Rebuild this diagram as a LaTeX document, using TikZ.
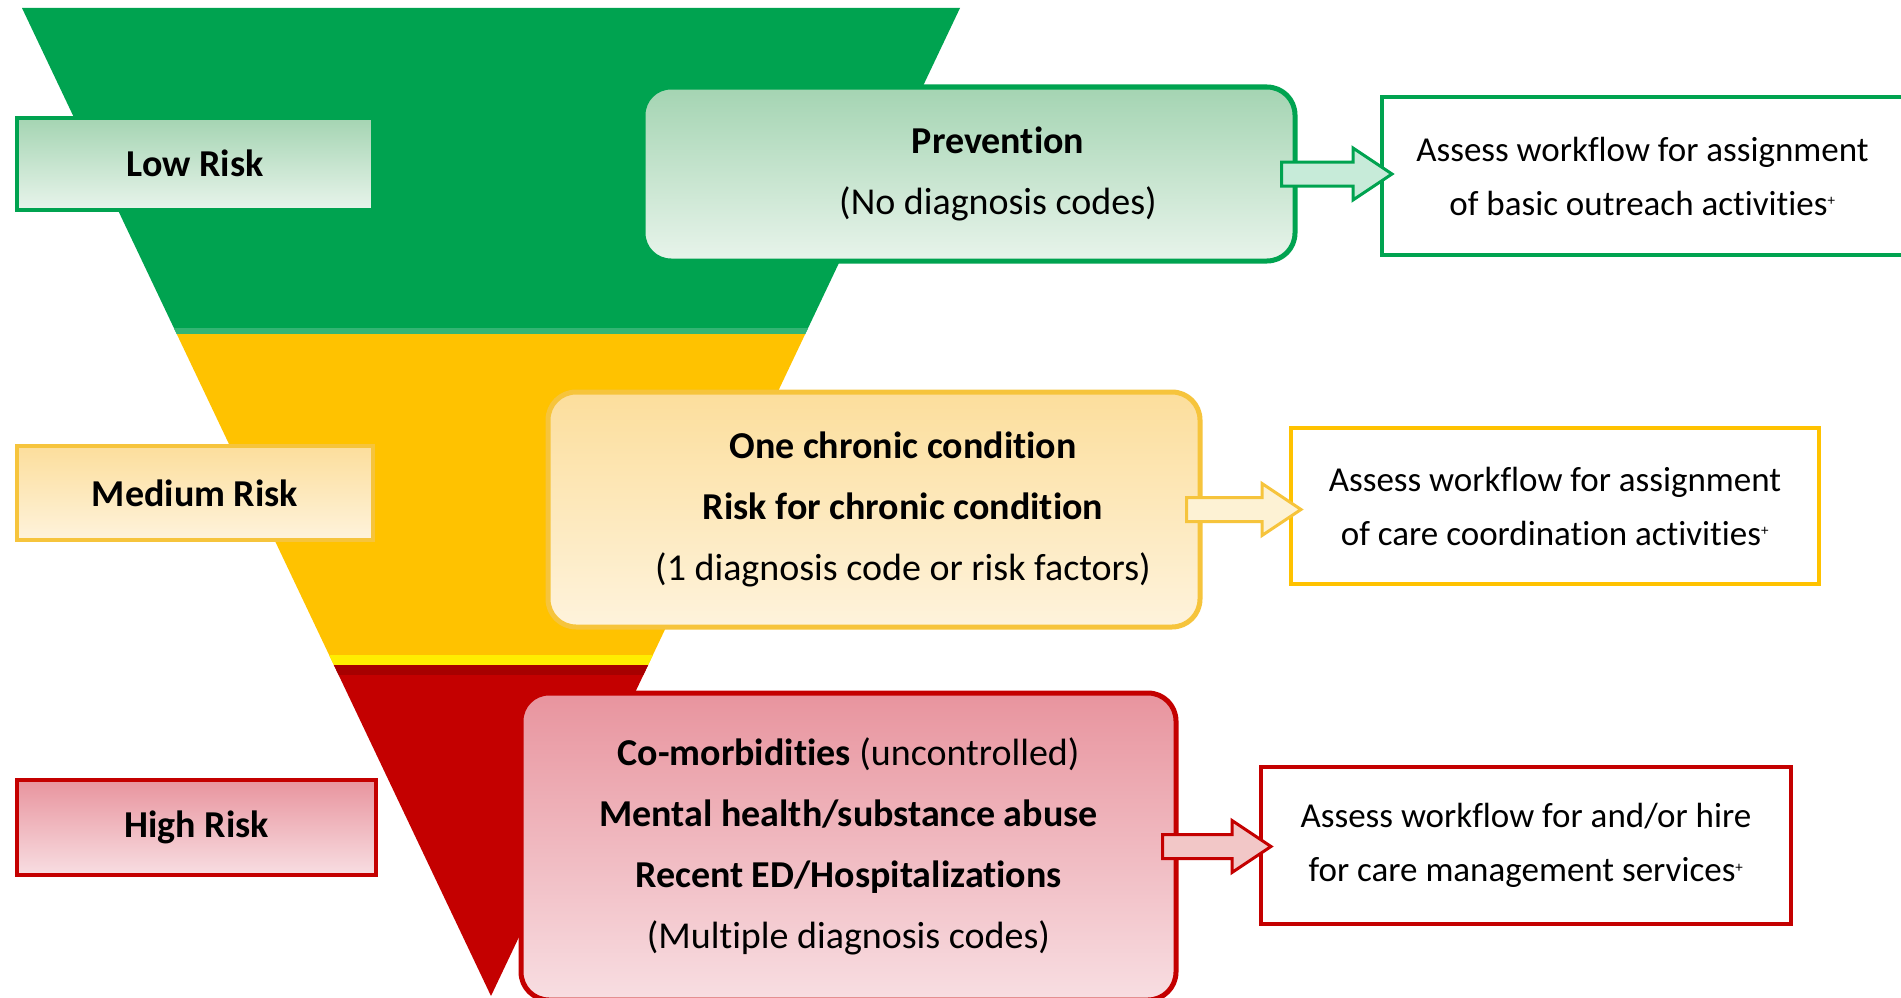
\documentclass[tikz,border=0pt]{standalone}
\usepackage{fontspec}
\setmainfont[Ligatures=NoCommon]{Carlito}
\usetikzlibrary{calc}
\definecolor{riskgreen}{RGB}{0,163,80}
\definecolor{riskyellow}{RGB}{255,194,0}
\definecolor{riskred}{RGB}{196,0,0}
\definecolor{goldline}{RGB}{246,196,60}
\definecolor{greentop}{RGB}{164,212,178}
\definecolor{greenbot}{RGB}{232,244,235}
\definecolor{yellowtop}{RGB}{252,222,156}
\definecolor{yellowbot}{RGB}{254,243,220}
\definecolor{redtop}{RGB}{232,148,158}
\definecolor{redbot}{RGB}{248,222,226}
\newcommand{\band}[3]{\fill[#1] ($(tl)!#2!(apex)$) -- ($(tr)!#2!(apex)$) -- ($(tr)!#3!(apex)$) -- ($(tl)!#3!(apex)$) -- cycle;}
\newcommand{\blockarrow}[3]{\draw[line width=3pt, draw=#3, fill=#3!22!white, line join=miter] let \p1=(#1.east), \p2=(#2.west) in
					(\x1-16pt,\y1+12pt) -- (\x2-27pt,\y1+12pt) -- (\x2-27pt,\y1+26pt) -- (\x2+12pt,\y1) -- (\x2-27pt,\y1-26pt) -- (\x2-27pt,\y1-12pt) -- (\x1-16pt,\y1-12pt) -- cycle;}
\newcommand{\plus}{\textsuperscript{\fontsize{15}{15}\selectfont+}}
\tikzset{
	risklabel/.style={draw, line width=4pt, minimum width=356pt, minimum height=92pt, font=\fontsize{38}{46}\selectfont\bfseries},
	riskgroup/.style={draw, line width=5pt, rounded corners=28pt, minimum width=652pt},
	grouptext/.style={align=center, font=\fontsize{38}{61}\selectfont},
	taskbox/.style={draw, line width=4pt, fill=white, align=center, font=\fontsize{35}{54}\selectfont}
}

\begin{document}
\begin{tikzpicture}[x=1pt, y=-1pt]
					\path[use as bounding box] (0,0) rectangle (1901,998);
					\clip (0,0) rectangle (1901,998);
					\fill[white] (0,0) rectangle (1901,998);

					\coordinate (tl) at (22,8);
					\coordinate (tr) at (960,8);
					\coordinate (apex) at (491,996);

					\band{riskgreen}{0}{0.33}
					\band{riskgreen!80!white}{0.324}{0.33}
					\band{riskyellow}{0.33}{0.665}
					\band{yellow!90!riskyellow}{0.655}{0.665}
					\band{riskred}{0.665}{1}
					\band{riskred!85!black}{0.665}{0.675}

					\node[risklabel, draw=riskgreen, top color=greentop, bottom color=greenbot] (low) at (195,163.5) {Low Risk};
					\node[risklabel, draw=goldline, top color=yellowtop, bottom color=yellowbot, minimum height=94pt] (medium) at (195,493) {Medium Risk};
					\node[risklabel, draw=riskred, top color=redtop, bottom color=redbot, minimum width=359pt, minimum height=95pt] (high) at (196.5,827.5) {High Risk};

					\node[riskgroup, draw=riskgreen, top color=greentop, bottom color=greenbot, minimum height=174pt] (prevention) at (969,174) {};
					\node[grouptext] (preventiontext) at ([xshift=29pt]prevention.center) {\textbf{Prevention}\\(No diagnosis codes)};

					\node[riskgroup, draw=goldline, top color=yellowtop, bottom color=yellowbot, minimum height=235pt] (chronic) at (874,509.5) {};
					\node[grouptext] (chronictext) at ([xshift=29pt]chronic.center) {\textbf{One chronic condition}\\\textbf{Risk for chronic condition}\\(1 diagnosis code or risk factors)};

					\node[riskgroup, grouptext, draw=riskred, top color=redtop, bottom color=redbot, minimum width=655pt, minimum height=307pt] (comorbid) at (848.5,846.5) {\textbf{Co-morbidities} (uncontrolled)\\\textbf{Mental health/substance abuse}\\\textbf{Recent ED/Hospitalizations}\\(Multiple diagnosis codes)};

					\node[taskbox, draw=riskgreen, minimum width=521pt, minimum height=158pt] (outreach) at (1642.5,176) {Assess workflow for assignment\\of basic outreach activities\plus};
					\node[taskbox, draw=riskyellow, minimum width=528pt, minimum height=156pt] (coordination) at (1555,506) {Assess workflow for assignment\\of care coordination activities\plus};
					\node[taskbox, draw=riskred, minimum width=530pt, minimum height=157pt] (management) at (1526,845.5) {Assess workflow for and/or hire\\for care management services\plus};

					\blockarrow{prevention}{outreach}{riskgreen}
					\blockarrow{chronic}{coordination}{goldline}
					\blockarrow{comorbid}{management}{riskred}

\end{tikzpicture}
\end{document}
